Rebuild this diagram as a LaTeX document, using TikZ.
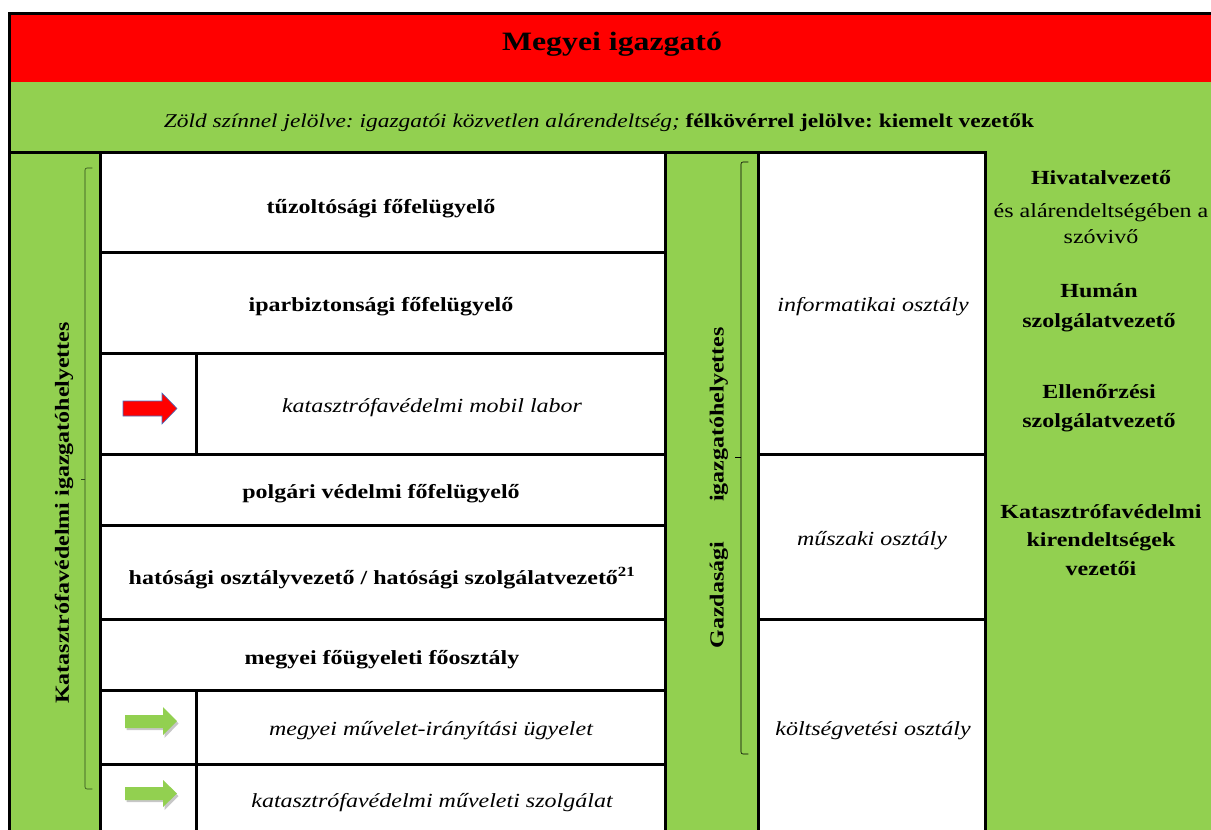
\documentclass[tikz,border=0pt]{standalone}
\usepackage{fontspec}
\setmainfont{Liberation Serif}[FakeStretch=1.2]
\definecolor{hdred}{HTML}{FF0000}
\definecolor{lgreen}{HTML}{92D050}
\definecolor{arrblue}{HTML}{4472C4}
\definecolor{bracegreen}{HTML}{2E4A1C}
\frenchspacing

\tikzset{
  txt/.style={inner sep=0pt, align=center, font=\fontsize{20}{29}\selectfont},
  cell/.style={txt, font=\fontsize{20}{29}\selectfont\bfseries},
  unit/.style={txt, font=\fontsize{20}{29}\selectfont\itshape},
  rule/.style={line width=3pt},
  brace/.style={line width=0.6pt, rounded corners=2pt},
}

\begin{document}
\begin{tikzpicture}[x=1pt,y=-1pt,line cap=rect]
  \useasboundingbox (0,0) rectangle (1211,830);
  % bands and green columns
  \fill[hdred] (10,15) rectangle (1211,82);
  \fill[lgreen] (10,82) rectangle (1211,152);
  \fill[lgreen] (985,152) rectangle (1211,840);
  \fill[lgreen] (10,152) rectangle (100,840);
  \fill[lgreen] (665,152) rectangle (759,840);
  % frame
  \draw[rule] (9.5,13.5) -- (1215,13.5);
  \draw[rule] (9.5,13.5) -- (9.5,840);
  \draw[rule] (9.5,152.5) -- (985.5,152.5);
  \draw[rule] (100.5,152.5) -- (100.5,840);
  \draw[rule] (665.5,152.5) -- (665.5,840);
  \draw[rule] (758.5,152.5) -- (758.5,840);
  \draw[rule] (985.5,152.5) -- (985.5,840);
  \draw[rule] (196,353) -- (196,454);
  \draw[rule] (196,690) -- (196,840);
  % rows
  \draw[rule] (100.5,252.5) -- (665.5,252.5);
  \draw[rule] (100.5,353.5) -- (665.5,353.5);
  \draw[rule] (100.5,454) -- (665.5,454);
  \draw[rule] (100.5,525) -- (665.5,525);
  \draw[rule] (100.5,619) -- (665.5,619);
  \draw[rule] (100.5,690.5) -- (665.5,690.5);
  \draw[rule] (100.5,764) -- (665.5,764);
  \draw[rule] (758.5,454) -- (985.5,454);
  \draw[rule] (758.5,619) -- (985.5,619);

  % header
  \node[txt, font=\fontsize{26.5}{30}\selectfont\bfseries, anchor=base] (igazgato) at (612,50) {Megyei igazgató};
  \node[txt, font=\fontsize{19.5}{29}\selectfont, anchor=base] (jelmagy) at (599,127)
    {\itshape Zöld színnel jelölve: igazgatói közvetlen alárendeltség; \bfseries\upshape félkövérrel jelölve: kiemelt vezetők};

  % left column
  \node[cell] (tuzolto) at (381,209) {tűzoltósági főfelügyelő};
  \node[cell] (iparbizt) at (381,307) {iparbiztonsági főfelügyelő};
  \node[unit] (mobillabor) at (432,408) {katasztrófavédelmi mobil labor};
  \node[cell] (polgved) at (381,494) {polgári védelmi főfelügyelő};
  \node[cell] (hatosagi) at (382,578) {hatósági osztályvezető / hatósági szolgálatvezető\textsuperscript{21}};
  \node[cell] (fougyelet) at (382,660) {megyei főügyeleti főosztály};
  \node[unit] (muvirany) at (431,731) {megyei művelet-irányítási ügyelet};
  \node[unit] (muvszolg) at (432,803) {katasztrófavédelmi műveleti szolgálat};

  % middle column
  \node[unit] (informatika) at (873,307) {informatikai osztály};
  \node[unit] (muszaki) at (872,541) {műszaki osztály};
  \node[unit] (koltseg) at (873,731) {költségvetési osztály};

  % deputies
  \node[cell, rotate=90] (katigh) at (64,513) {Katasztrófavédelmi igazgatóhelyettes};
  \node[cell, rotate=90] (gazdigh) at (719,488) {Gazdasági\hspace{40pt}igazgatóhelyettes};
  \draw[brace, bracegreen] (92,168) -- (85,168) -- (85,789) -- (92,789);
  \draw[line width=0.6pt, bracegreen] (85,479) -- (81,479);
  \draw[brace] (748,162) -- (741,162) -- (741,754) -- (748,754);
  \draw[line width=0.6pt] (741,457) -- (735,457);

  % right column
  \node[txt, anchor=base] (hivatal) at (1101,184) {\bfseries Hivatalvezető};
  \node[txt, anchor=base] (szovivo) at (1101,217) {és alárendeltségében a};
  \node[txt, anchor=base] (szovivo2) at (1101,243) {szóvivő};
  \node[cell, anchor=base] (human) at (1099,297) {Humán};
  \node[cell, anchor=base] (human2) at (1099,327) {szolgálatvezető};
  \node[cell, anchor=base] (ellen) at (1099,398) {Ellenőrzési};
  \node[cell, anchor=base] (ellen2) at (1099,427) {szolgálatvezető};
  \node[cell, anchor=base] (kirend) at (1101,518) {Katasztrófavédelmi};
  \node[cell, anchor=base] (kirend2) at (1101,546) {kirendeltségek};
  \node[cell, anchor=base] (kirend3) at (1101,575) {vezetői};

  % arrows
  \draw[arrblue, fill=hdred, line width=0.6pt, line join=miter]
    (123,401) -- (162,401) -- (162,393) -- (177,408.5) -- (162,424) -- (162,416) -- (123,416) -- cycle;
  \fill[black, opacity=0.22] (126.5,717) -- (164.5,717) -- (164.5,709) -- (178.5,723.5) -- (164.5,738) -- (164.5,730) -- (126.5,730) -- cycle;
  \fill[lgreen] (125,715) -- (163,715) -- (163,707) -- (177,721) -- (163,735) -- (163,728) -- (125,728) -- cycle;
  \fill[black, opacity=0.22] (126.5,789) -- (164.5,789) -- (164.5,782) -- (178.5,796) -- (164.5,810) -- (164.5,802) -- (126.5,802) -- cycle;
  \fill[lgreen] (125,787) -- (163,787) -- (163,780) -- (177,793.5) -- (163,807) -- (163,800) -- (125,800) -- cycle;
\end{tikzpicture}
\end{document}
